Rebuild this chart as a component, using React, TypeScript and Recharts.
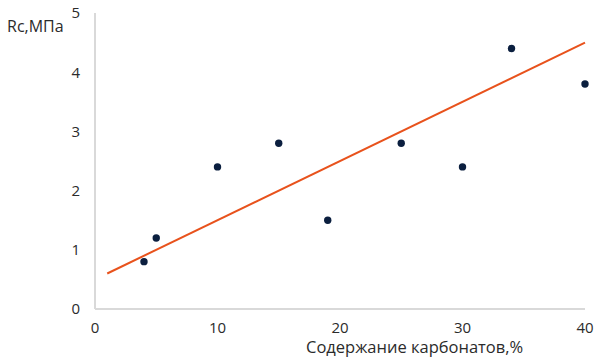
import { Scatter, XAxis, YAxis, Line, ComposedChart } from "recharts";

// Содержание карбонатов, % vs Rc, МПа
const carbonates = [4, 5, 10, 15, 19, 25, 30, 34, 40];
const strength = [0.8, 1.2, 2.4, 2.8, 1.5, 2.8, 2.4, 4.4, 3.8];

// linear trend end points
const trendX = [1, 40];
const trendY = [0.6, 4.5];

const xTicks = [0, 10, 20, 30, 40];
const yTicks = [0, 1, 2, 3, 4, 5];

const points = carbonates.map((x, i) => ({ x, y: strength[i] }));
const trend = trendX.map((x, i) => ({ x, t: trendY[i] }));

const font = "'Open Sans', sans-serif";
const axisColor = "#d9d9d9";
const textColor = "#2b2b2b";
const tickStyle = { fontSize: 15, fill: textColor, fontFamily: font };

export default function App() {
  return (
    <div style={{ position: "absolute", left: 0, top: 0, width: 595, height: 358, background: "#fff", overflow: "hidden" }}>
      <ComposedChart
        width={595}
        height={358}
        margin={{ top: 13, right: 10, bottom: 19, left: 0 }}
      >
        <XAxis
          type="number"
          dataKey="x"
          domain={[0, 40]}
          ticks={xTicks}
          tickLine={false}
          tickSize={0}
          tickMargin={13}
          stroke={axisColor}
          strokeWidth={2}
          tick={tickStyle}
        />
        <YAxis
          type="number"
          domain={[0, 5]}
          ticks={yTicks}
          width={95}
          tickLine={false}
          tickSize={0}
          tickMargin={15}
          stroke={axisColor}
          strokeWidth={2}
          tick={tickStyle}
        />
        <Line
          data={trend}
          dataKey="t"
          type="linear"
          stroke="#e8521c"
          strokeWidth={2}
          dot={false}
          isAnimationActive={false}
        />
        <Scatter
          data={points}
          dataKey="y"
          fill="#0b1f3f"
          isAnimationActive={false}
          shape={(p: any) => <circle cx={p.cx} cy={p.cy} r={3.7} fill="#0b1f3f" />}
        />
      </ComposedChart>
      <div style={{ position: "absolute", left: 7, top: 18, lineHeight: 1, fontFamily: font, fontSize: 16, color: textColor }}>
        Rc,МПа
      </div>
      <div style={{ position: "absolute", left: 306, top: 339, lineHeight: 1, fontFamily: font, fontSize: 16.5, color: textColor, whiteSpace: "nowrap" }}>
        Содержание карбонатов,%
      </div>
    </div>
  );
}
